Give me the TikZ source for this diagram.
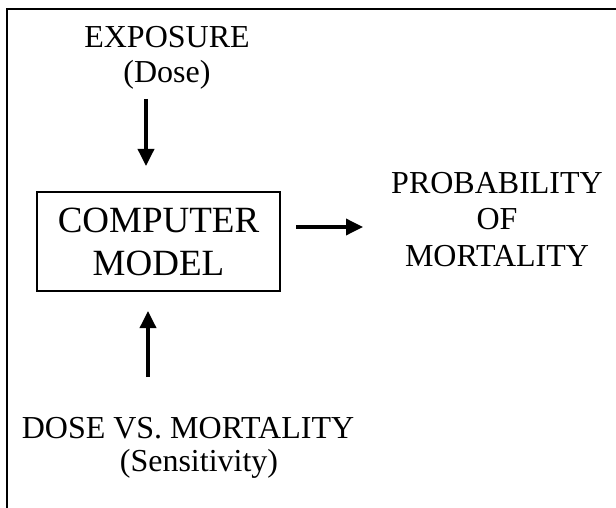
\documentclass[tikz,border=0pt]{standalone}
\usepackage{fontspec}
\setmainfont{Liberation Serif}
\usetikzlibrary{arrows.meta}
\begin{document}
\begin{tikzpicture}[x=1pt,y=-1pt,
  lbl/.style={align=center,inner sep=0pt,anchor=base},
  flow/.style={line width=3.5pt,-{Triangle[width=16pt,length=17pt]}},
  frame/.style={line width=2pt},
  modelbox/.style={draw,line width=1.5pt,minimum width=243pt,minimum height=99pt,inner sep=0pt,align=center,font=\fontsize{37}{43}\selectfont}
]
\useasboundingbox (0,0) rectangle (616,508);
\draw[frame] (616,9) -- (6.7,9) -- (6.7,508);
\node[modelbox] (box) at (158.5,241.5) {COMPUTER\\MODEL};
\node[lbl,font=\fontsize{32}{35}\selectfont] (exp) at (167,83) {EXPOSURE\\(Dose)};
\node[lbl,font=\fontsize{32}{36.5}\selectfont] (prob) at (497,266) {PROBABILITY\\OF\\MORTALITY};
\node[lbl,font=\fontsize{32}{33}\selectfont] (dose) at (188,471) {DOSE VS. MORTALITY\\\hspace*{22pt}(Sensitivity)};
\coordinate (d1) at (146,99);
\coordinate (d2) at (146,166);
\coordinate (u1) at (148,377);
\coordinate (u2) at (148,311);
\coordinate (r1) at (296,227);
\coordinate (r2) at (363,227);
\draw[flow] (d1) -- (d2);
\draw[flow] (u1) -- (u2);
\draw[flow] (r1) -- (r2);
\end{tikzpicture}
\end{document}
